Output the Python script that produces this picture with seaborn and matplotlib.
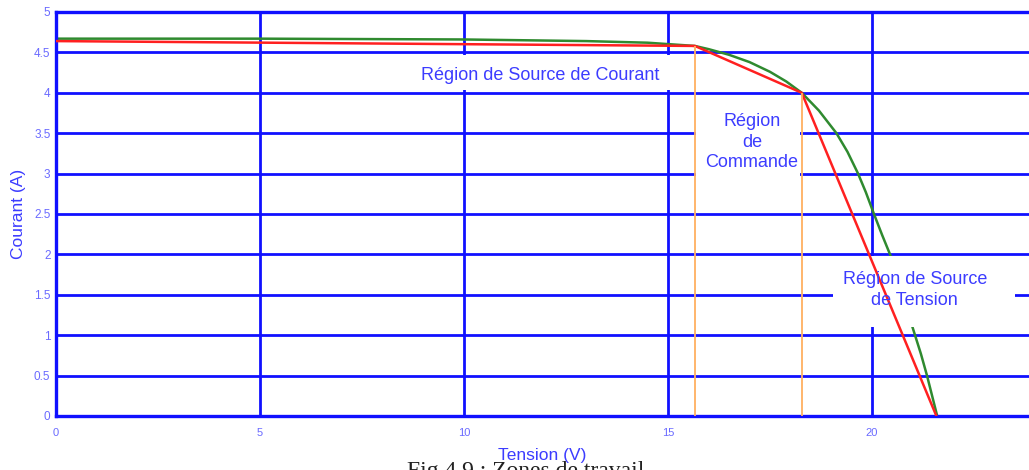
import matplotlib
matplotlib.use("Agg")
import matplotlib.pyplot as plt
from matplotlib.patches import Rectangle
import seaborn as sns
import pandas as pd

# I-V characteristic of the PV module (tension in V, courant in A)
green_v = [0.0, 5.0, 10.0, 13.0, 14.5, 15.66, 16.0, 16.5, 17.0, 17.5, 17.9,
           18.28, 18.7, 19.13, 19.4, 19.66, 19.85, 20.05, 20.25, 20.5, 20.75,
           21.0, 21.2, 21.35, 21.6]
green_i = [4.67, 4.67, 4.66, 4.64, 4.62, 4.58, 4.54, 4.47, 4.38, 4.26, 4.14,
           4.0, 3.78, 3.5, 3.27, 3.0, 2.77, 2.5, 2.24, 1.93, 1.53,
           1.09, 0.77, 0.5, 0.0]

# piecewise-linear approximation of the same characteristic
red_v = [0.0, 15.66, 18.28, 21.58]
red_i = [4.64, 4.58, 4.0, 0.0]

x_ticks = [0, 5, 10, 15, 20]
y_ticks = [0, 0.5, 1, 1.5, 2, 2.5, 3, 3.5, 4, 4.5, 5]
y_tick_labels = ["0", "0.5", "1", "1.5", "2", "2.5", "3", "3.5", "4", "4.5", "5"]

region_labels = ["Région de Source de Courant",
                 "Région\nde\nCommande",
                 "Région de Source\nde Tension"]

sns.set_style("white")
plt.rcParams["font.family"] = ["Liberation Sans", "DejaVu Sans"]

BLUE = "#1010ff"
TXT = "#3c3cff"
TICK = "#6a6aff"

fig = plt.figure(figsize=(10.29, 4.70), dpi=100)
ax = fig.add_axes([56 / 1029, 54 / 470, 973 / 1029, 404 / 470])

green_df = pd.DataFrame({"v": green_v, "i": green_i})
red_df = pd.DataFrame({"v": red_v, "i": red_i})

sns.lineplot(data=green_df, x="v", y="i", sort=False, color="#2f8a2f",
             lw=1.8, ax=ax, zorder=2)
sns.lineplot(data=red_df, x="v", y="i", sort=False, color="#ff2020",
             lw=1.8, ax=ax, zorder=4)

# operating boundaries at the two knee points
ax.vlines([red_v[1], red_v[2]], 0, [red_i[1], red_i[2]], color="#ffb060",
          lw=1.3, zorder=4)

ax.set_xlim(0, 23.85)
ax.set_ylim(0, 5)
ax.set_xticks(x_ticks)
ax.set_xticklabels([str(t) for t in x_ticks])
ax.set_yticks(y_ticks)
ax.set_yticklabels(y_tick_labels)
ax.grid(True, color=BLUE, lw=2.0, zorder=0.5)
ax.set_axisbelow(True)

for side in ["left", "bottom", "top"]:
    ax.spines[side].set_color(BLUE)
    ax.spines[side].set_linewidth(2.4)
ax.spines["right"].set_visible(False)

ax.tick_params(axis="x", direction="in", length=4, width=1.2, color=BLUE,
               labelsize=8, labelcolor=TICK, pad=9)
ax.tick_params(axis="y", direction="in", length=4, width=1.2, color=BLUE,
               labelsize=8.5, labelcolor=TICK, pad=4)

ax.set_xlabel("Tension (V)", color=TXT, fontsize=12.5, labelpad=7)
ax.set_ylabel("Courant (A)", color=TXT, fontsize=12.5, labelpad=6)

# white panels behind the region labels
boxes = [((8.55, 4.03), 15.5 - 8.55, 0.44),
         ((15.68, 2.86), 18.24 - 15.68, 1.05),
         ((19.04, 1.10), 23.5 - 19.04, 0.88)]
for (xy, w, h) in boxes:
    ax.add_patch(Rectangle(xy, w, h, facecolor="white", edgecolor="none",
                           zorder=3))

label_pos = [(11.86, 4.22), (17.06, 3.39), (21.05, 1.56)]
for text, (tx, ty) in zip(region_labels, label_pos):
    ax.text(tx, ty, text, ha="center", va="center", color=TXT, fontsize=13,
            linespacing=1.3, zorder=5)

# figure caption below the plot, running off the lower edge
fig.text(407 / 1029, -7 / 470, "Fig 4.9 : Zones de travail", ha="left",
         va="baseline", fontsize=17, color="#222222", zorder=0,
         family=["Liberation Serif", "DejaVu Serif"])

fig.savefig("out.png", dpi=100)
